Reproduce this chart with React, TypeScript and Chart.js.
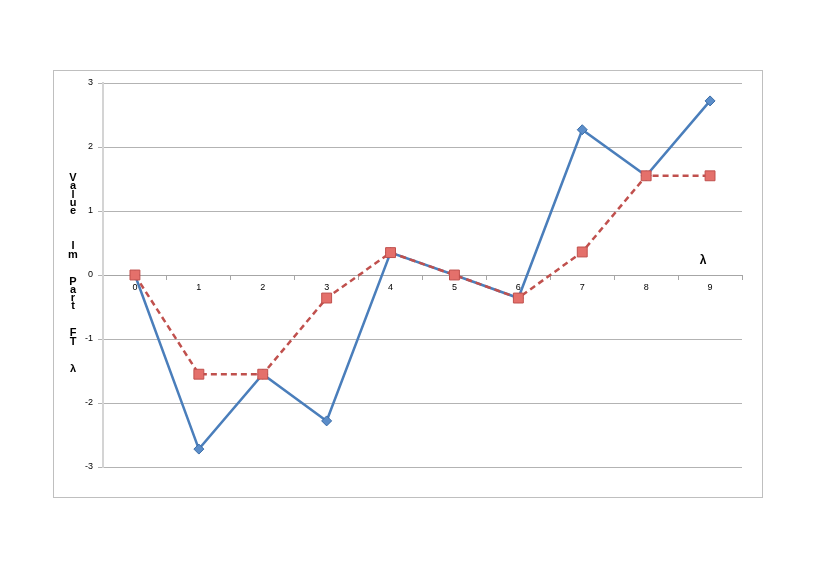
import React, { useEffect, useRef } from "react";
import { Chart, registerables } from "chart.js";

Chart.register(...registerables);

const categories = ["0", "1", "2", "3", "4", "5", "6", "7", "8", "9"];
const blueValues = [0, -2.72, -1.55, -2.28, 0.35, 0, -0.36, 2.27, 1.55, 2.72];
const redValues = [0, -1.55, -1.55, -0.36, 0.35, 0, -0.36, 0.36, 1.55, 1.55];
const yTitleWords = ["Value", "Im", "Part", "FT", "λ"];
const xTitle = "λ";

const framePlugin = {
  id: "frame",
  beforeDraw(chart: any) {
    const ctx = chart.ctx;
    ctx.save();
    ctx.fillStyle = "#ffffff";
    ctx.fillRect(0, 0, chart.width, chart.height);
    ctx.strokeStyle = "#BFBFBF";
    ctx.lineWidth = 1;
    ctx.strokeRect(53.5, 70.5, 709, 427);
    ctx.restore();
  },
  afterDraw(chart: any) {
    const ctx = chart.ctx;
    const area = chart.chartArea;
    const yScale = chart.scales.y;
    ctx.save();
    ctx.fillStyle = "#000000";
    ctx.font = "bold 11px 'Liberation Sans', Arial, sans-serif";
    ctx.textAlign = "center";
    ctx.textBaseline = "middle";
    const step = 8.3;
    const gap = 27;
    let y = 178;
    yTitleWords.forEach((w, wi) => {
      for (let i = 0; i < w.length; i++) {
        ctx.fillText(w[i], 73, y);
        if (i < w.length - 1) y += step;
      }
      if (wi < yTitleWords.length - 1) y += gap + (wi === 0 ? 8 : 0);
    });
    ctx.font = "bold 12px 'Liberation Sans', Arial, sans-serif";
    ctx.fillText(xTitle, area.right - 39, yScale.getPixelForValue(0) - 14);
    ctx.restore();
  },
};

export default function App() {
  const ref = useRef<HTMLCanvasElement>(null);
  useEffect(() => {
    const chart = new Chart(ref.current as HTMLCanvasElement, {
      type: "line",
      data: {
        labels: categories,
        datasets: [
          {
            data: blueValues,
            borderColor: "#4A7EBB",
            backgroundColor: "#5B8DC9",
            pointBorderColor: "#3A6DA8",
            borderWidth: 2.5,
            pointStyle: "rectRot",
            pointRadius: 5,
            pointBorderWidth: 1,
            tension: 0,
            order: 1,
          },
          {
            data: redValues,
            borderColor: "#C0504D",
            backgroundColor: "#E4706B",
            pointBorderColor: "#C0504D",
            borderWidth: 2.5,
            borderDash: [6, 4],
            pointStyle: "rect",
            pointRadius: 7,
            pointBorderWidth: 1,
            tension: 0,
            order: 0,
          },
        ],
      },
      options: {
        responsive: false,
        animation: false,
        layout: { padding: { left: 53, right: 75, top: 83, bottom: 111 } },
        plugins: { legend: { display: false }, tooltip: { enabled: false } },
        scales: {
          x: {
            type: "category",
            offset: true,
            position: { y: 0 } as any,
            grid: {
              display: true,
              drawOnChartArea: false,
              drawTicks: true,
              tickLength: 4,
              offset: true,
              color: "#A6A6A6",
            },
            border: { display: true, color: "#A6A6A6", width: 1 },
            ticks: {
              color: "#000000",
              padding: 3,
              maxRotation: 0,
              font: { family: "'Liberation Sans', Arial, sans-serif", size: 9 },
            },
          },
          y: {
            type: "linear",
            min: -3,
            max: 3,
            afterFit: (s: any) => {
              s.width = 50;
            },
            grid: {
              color: "#B3B3B3",
              drawTicks: true,
              tickLength: 5,
            },
            border: { display: true, color: "#D4D4D4", width: 2 },
            ticks: {
              stepSize: 1,
              color: "#000000",
              padding: 5,
              font: { family: "'Liberation Sans', Arial, sans-serif", size: 9 },
            },
          },
        },
      },
      plugins: [framePlugin],
    } as any);
    return () => chart.destroy();
  }, []);
  return (
    <div style={{ position: "fixed", left: 0, top: 0, width: 817, height: 578 }}>
      <canvas ref={ref} width={817} height={578} style={{ width: 817, height: 578 }} />
    </div>
  );
}
